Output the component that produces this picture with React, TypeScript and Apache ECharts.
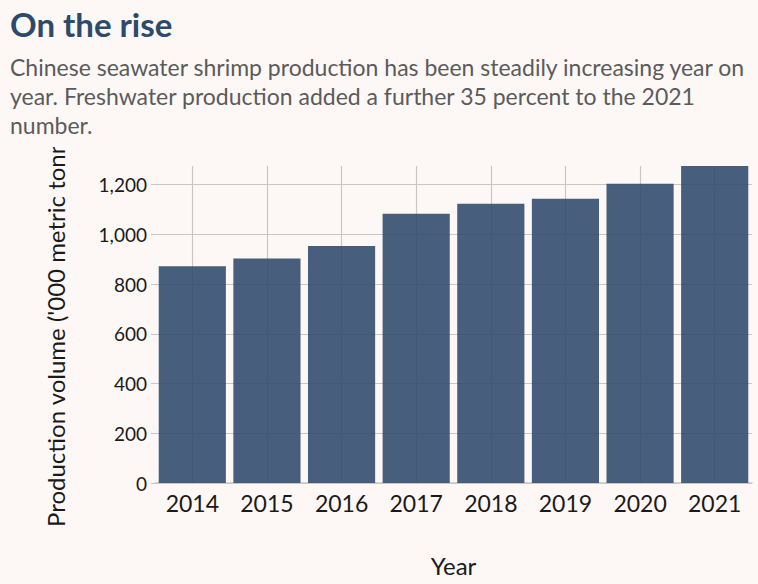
import React, { useEffect, useRef } from "react";
import * as echarts from "echarts";

const years = ["2014", "2015", "2016", "2017", "2018", "2019", "2020", "2021"];
const production = [872, 903, 953, 1083, 1123, 1143, 1204, 1275];
const yTicks = [0, 200, 400, 600, 800, 1000, 1200];

const titleText = "On the rise";
const subtitleLines = [
  "Chinese seawater shrimp production has been steadily increasing year on",
  "year. Freshwater production added a further 35 percent to the 2021",
  "number.",
];
const yAxisTitle = "Production volume ('000 metric tonnes)";

const BG = "#fdf8f5";
const FONT = "Lato";

export default function App() {
  const ref = useRef<HTMLDivElement>(null);
  useEffect(() => {
    document.body.style.margin = "0";
    document.body.style.background = BG;
    const chart = echarts.init(ref.current!, null, { renderer: "svg" });
    chart.setOption({
      animation: false,
      backgroundColor: BG,
      textStyle: { fontFamily: FONT },
      grid: { left: 155, right: 6, top: 166, bottom: 101, containLabel: false },
      xAxis: {
        type: "category",
        data: years,
        name: "Year",
        nameLocation: "middle",
        nameGap: 70,
        nameTextStyle: { fontSize: 24, color: "#1a1a1a", fontFamily: FONT },
        axisLine: { show: true, lineStyle: { color: "#cbc6c3", width: 1.5 } },
        axisTick: { show: false },
        axisLabel: { fontSize: 23, color: "#1a1a1a", margin: 8, fontFamily: FONT },
        splitLine: { show: false },
      },
      yAxis: {
        type: "value",
        min: 0,
        max: 1275,
        interval: 200,
        axisLine: { show: false },
        axisTick: {
          show: true,
          length: 4,
          lineStyle: { color: "#cbc6c3" },
          interval: (_i: number, v: any) => yTicks.includes(Number(v)),
        },
        axisLabel: {
          fontSize: 19,
          color: "#1a1a1a",
          margin: 8,
          showMaxLabel: false,
          fontFamily: FONT,
          formatter: (v: number) => (yTicks.includes(v) ? v.toLocaleString("en-US") : ""),
        },
        splitLine: {
          show: true,
          showMaxLine: false,
          lineStyle: { color: "#cbc6c3", width: 1.2 },
        },
      },
      series: [
        {
          type: "line",
          data: [],
          z: 1,
          silent: true,
          markLine: {
            silent: true,
            z: 0,
            symbol: "none",
            label: { show: false },
            lineStyle: { color: "#cbc6c3", type: "solid", width: 1.2 },
            data: years.map((y) => ({ xAxis: y })),
          },
        },
        {
          type: "bar",
          data: production,
          z: 2,
          barCategoryGap: "10%",
          itemStyle: { color: "#2d496b", opacity: 0.88 },
        },
      ],
      graphic: [
        {
          type: "text",
          z: 50,
          x: 55,
          y: 527,
          rotation: Math.PI / 2,
          style: {
            text: yAxisTitle,
            fontSize: 24,
            fill: "#1a1a1a",
            fontFamily: FONT,
            align: "left",
            verticalAlign: "middle",
          },
        },
        {
          type: "rect",
          z: 100,
          shape: { x: 0, y: 0, width: 150, height: 147 },
          style: { fill: BG },
        },
        {
          type: "text",
          z: 101,
          left: 10,
          top: 7,
          style: {
            text: titleText,
            fontSize: 33,
            fontWeight: "bold",
            fill: "#2c4a6c",
            fontFamily: FONT,
          },
        },
        {
          type: "text",
          z: 101,
          left: 10,
          top: 52,
          style: {
            text: subtitleLines.join("\n"),
            fontSize: 23,
            lineHeight: 29,
            fill: "#5b5b5b",
            fontFamily: FONT,
          },
        },
      ],
    });
    return () => chart.dispose();
  }, []);
  return <div ref={ref} style={{ width: 758, height: 584, background: BG }} />;
}
